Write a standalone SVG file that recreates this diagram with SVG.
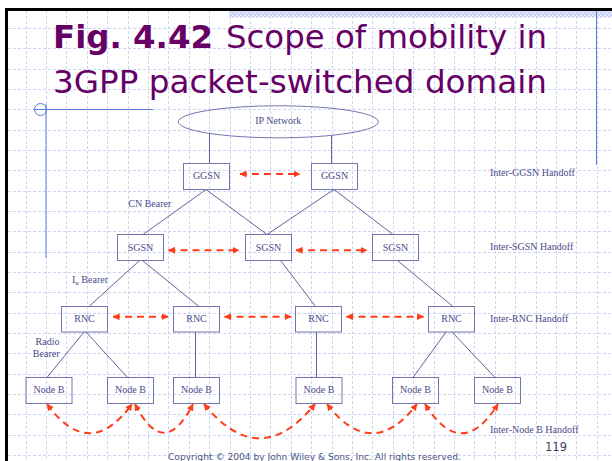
<svg xmlns="http://www.w3.org/2000/svg" width="612" height="461" viewBox="0 0 612 461">
<defs>
<style>
.grid{fill:none;stroke:#cdd5f4;stroke-width:1;stroke-dasharray:3 2}
.deco{fill:none;stroke:#5b7ae0;stroke-width:1}
.title{font-family:"DejaVu Sans",Verdana,sans-serif;font-size:32px;fill:#660066}
.shape{fill:none;stroke:#7474ae;stroke-width:1}
.lbl{font-family:"Liberation Serif","Times New Roman",serif;font-size:10px;fill:#4a4a8a}
.mid{text-anchor:middle}
.link{fill:none;stroke:#50508f;stroke-width:0.9}
.ho{fill:none;stroke:#ff3d1a;stroke-width:2;stroke-dasharray:7 5;marker-start:url(#ah);marker-end:url(#ah)}
.foot{font-family:"DejaVu Sans",Verdana,sans-serif;fill:#4d5588}
</style>
<marker id="ah" markerUnits="userSpaceOnUse" viewBox="0 0 7 7" markerWidth="7" markerHeight="7" refX="6.5" refY="3.5" orient="auto-start-reverse">
<path d="M0,0 L7,3.5 L0,7 z" fill="#ff3d1a"/>
</marker>
<pattern id="hatch" patternUnits="userSpaceOnUse" width="4" height="4">
<rect width="4" height="4" fill="#e6eafb"/>
<rect width="2" height="2" fill="#c3cdf2"/>
<rect x="2" y="2" width="2" height="2" fill="#c3cdf2"/>
</pattern>
</defs>

<rect width="612" height="461" fill="#ffffff"/>

<g id="background">
<path class="grid" d="M26.5,11V461M46.5,11V461M66.5,11V461M87.5,11V461M107.5,11V461M128.5,11V461M148.5,11V461M168.5,11V461M189.5,11V461M209.5,11V461M230.5,11V461M250.5,11V461M270.5,11V461M291.5,11V461M311.5,11V461M332.5,11V461M352.5,11V461M372.5,11V461M393.5,11V461M413.5,11V461M434.5,11V461M454.5,11V461M474.5,11V461M495.5,11V461M515.5,11V461M536.5,11V461M556.5,11V461M576.5,11V461M597.5,11V461
M8,28.5H612M8,48.5H612M8,69.5H612M8,89.5H612M8,109.5H612M8,130.5H612M8,150.5H612M8,170.5H612M8,191.5H612M8,211.5H612M8,231.5H612M8,252.5H612M8,272.5H612M8,292.5H612M8,313.5H612M8,333.5H612M8,353.5H612M8,374.5H612M8,394.5H612M8,414.5H612M8,435.5H612M8,455.5H612"/>
<rect x="229" y="11" width="383" height="6.5" fill="url(#hatch)"/>
<rect x="5" y="8" width="607" height="3" fill="#000000"/>
<rect x="5" y="8" width="3" height="453" fill="#000000"/>
<line class="deco" x1="596.5" y1="11" x2="596.5" y2="165"/>
<line class="deco" x1="33" y1="109.5" x2="153" y2="109.5"/>
<circle class="deco" cx="40.5" cy="109.5" r="6"/>
<line class="deco" x1="46" y1="104" x2="46" y2="258"/>
</g>

<g id="title">
<text class="title" x="53" y="47.5" font-weight="bold" textLength="160" lengthAdjust="spacingAndGlyphs">Fig. 4.42</text>
<text class="title" x="226" y="47.5" textLength="321" lengthAdjust="spacingAndGlyphs">Scope of mobility in</text>
<text class="title" x="53" y="92.5" textLength="494" lengthAdjust="spacingAndGlyphs">3GPP packet-switched domain</text>
</g>

<g id="connectors">
<line class="link" x1="209.5" y1="133.4" x2="209.5" y2="163.5"/>
<line class="link" x1="331.5" y1="135.4" x2="331.5" y2="163.5"/>
<line class="link" x1="206" y1="189.5" x2="143" y2="234.5"/>
<line class="link" x1="206" y1="189.5" x2="267" y2="234.5"/>
<line class="link" x1="334" y1="189.5" x2="267" y2="234.5"/>
<line class="link" x1="334" y1="189.5" x2="393" y2="234.5"/>
<line class="link" x1="139" y1="261" x2="89" y2="306.5"/>
<line class="link" x1="143" y1="261" x2="199" y2="306.5"/>
<line class="link" x1="281" y1="261" x2="315.5" y2="306.5"/>
<line class="link" x1="398" y1="261" x2="453" y2="306.5"/>
<line class="link" x1="84" y1="332" x2="47" y2="377.5"/>
<line class="link" x1="86" y1="332" x2="127.5" y2="377.5"/>
<line class="link" x1="195.5" y1="332" x2="195.5" y2="377.5"/>
<line class="link" x1="316.5" y1="332" x2="316.5" y2="377.5"/>
<line class="link" x1="446" y1="332" x2="413" y2="377.5"/>
<line class="link" x1="452" y1="332" x2="495" y2="377.5"/>
<line class="ho" x1="240" y1="174" x2="300" y2="174"/>
<line class="ho" x1="168.5" y1="250.3" x2="239" y2="250.3"/>
<line class="ho" x1="296" y1="250.3" x2="367" y2="250.3"/>
<line class="ho" x1="113" y1="316.7" x2="168" y2="316.7"/>
<line class="ho" x1="224.5" y1="316.7" x2="291" y2="316.7"/>
<line class="ho" x1="346.5" y1="316.7" x2="423.5" y2="316.7"/>
<path class="ho" d="M47,404 Q89.5,462.6 132,404"/>
<path class="ho" d="M135,404 Q164,461.4 193,404"/>
<path class="ho" d="M204,404 Q259.5,472.6 315,404"/>
<path class="ho" d="M327,404 Q372,462.6 417,404"/>
<path class="ho" d="M425,404 Q461.5,462.6 498,404"/>
</g>

<g id="ip-network"><ellipse class="shape" cx="278.3" cy="121.8" rx="100" ry="16"/><text class="lbl mid" x="278.3" y="123.5">IP Network</text></g>
<g id="ggsn-1"><rect class="shape" x="183.5" y="163.5" width="46" height="26"/><text class="lbl mid" x="206.5" y="179.4">GGSN</text></g>
<g id="ggsn-2"><rect class="shape" x="311.5" y="163.5" width="46" height="26"/><text class="lbl mid" x="334.5" y="179.4">GGSN</text></g>
<g id="sgsn-1"><rect class="shape" x="117.5" y="234.5" width="46" height="26"/><text class="lbl mid" x="140.5" y="250.6">SGSN</text></g>
<g id="sgsn-2"><rect class="shape" x="245.5" y="234.5" width="46" height="26"/><text class="lbl mid" x="268.5" y="250.6">SGSN</text></g>
<g id="sgsn-3"><rect class="shape" x="372.5" y="234.5" width="46" height="26"/><text class="lbl mid" x="395.5" y="250.6">SGSN</text></g>
<g id="rnc-1"><rect class="shape" x="61.5" y="306.5" width="46" height="25.5"/><text class="lbl mid" x="84.5" y="322.3">RNC</text></g>
<g id="rnc-2"><rect class="shape" x="173.5" y="306.5" width="46" height="25.5"/><text class="lbl mid" x="196.5" y="322.3">RNC</text></g>
<g id="rnc-3"><rect class="shape" x="295.5" y="306.5" width="46" height="25.5"/><text class="lbl mid" x="318.5" y="322.3">RNC</text></g>
<g id="rnc-4"><rect class="shape" x="428.5" y="306.5" width="46" height="25.5"/><text class="lbl mid" x="451.5" y="322.3">RNC</text></g>
<g id="nodeb-1"><rect class="shape" x="26" y="377.5" width="46" height="26"/><text class="lbl mid" x="49" y="393.4">Node B</text></g>
<g id="nodeb-2"><rect class="shape" x="107.5" y="377.5" width="46" height="26"/><text class="lbl mid" x="130.5" y="393.4">Node B</text></g>
<g id="nodeb-3"><rect class="shape" x="173.5" y="377.5" width="46" height="26"/><text class="lbl mid" x="196.5" y="393.4">Node B</text></g>
<g id="nodeb-4"><rect class="shape" x="296" y="377.5" width="46" height="26"/><text class="lbl mid" x="319" y="393.4">Node B</text></g>
<g id="nodeb-5"><rect class="shape" x="392.5" y="377.5" width="46" height="26"/><text class="lbl mid" x="415.5" y="393.4">Node B</text></g>
<g id="nodeb-6"><rect class="shape" x="474.5" y="377.5" width="46" height="26"/><text class="lbl mid" x="497.5" y="393.4">Node B</text></g>

<g id="labels">
<text class="lbl" x="128.3" y="206.7">CN Bearer</text>
<text class="lbl" x="72" y="282.7">I<tspan font-size="7" dy="2">u</tspan><tspan dy="-2"> Bearer</tspan></text>
<text class="lbl" x="59.5" y="345" text-anchor="end">Radio</text>
<text class="lbl" x="59.5" y="356.7" text-anchor="end">Bearer</text>
<text class="lbl" x="490" y="175.7">Inter-GGSN Handoff</text>
<text class="lbl" x="490" y="249.5">Inter-SGSN Handoff</text>
<text class="lbl" x="490" y="321.7">Inter-RNC Handoff</text>
<text class="lbl" x="490" y="432.7">Inter-Node B Handoff</text>
</g>

<g id="footer">
<text class="foot" x="545" y="450.7" font-size="11.5" style="fill:#3c3c5c">119</text>
<text class="foot" x="168" y="459.5" font-size="9.5" textLength="293" lengthAdjust="spacingAndGlyphs">Copyright © 2004 by John Wiley &amp; Sons, Inc. All rights reserved.</text>
</g>
</svg>
